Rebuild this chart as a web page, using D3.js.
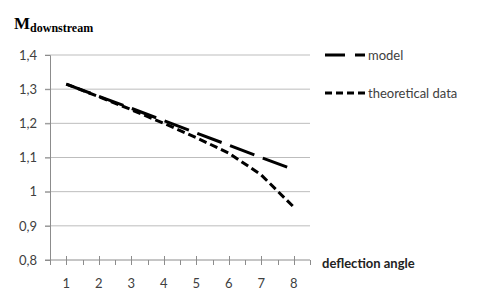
<!DOCTYPE html>
<html>
<head>
<meta charset="utf-8">
<script src="https://cdn.jsdelivr.net/npm/d3@7"></script>
<style>
  body { margin: 0; background: #fff; }
  text { font-family: Lato, "Open Sans", sans-serif; }
</style>
</head>
<body>
<script>
// categories and series
var angles = [1, 2, 3, 4, 5, 6, 7, 8];
var model = [1.315, 1.279, 1.244, 1.208, 1.172, 1.136, 1.100, 1.065];
var theory = [1.315, 1.278, 1.240, 1.200, 1.158, 1.113, 1.049, 0.955];
var yTicks = [0.8, 0.9, 1.0, 1.1, 1.2, 1.3, 1.4];
var yLabels = ["0,8", "0,9", "1", "1,1", "1,2", "1,3", "1,4"];

var w = 480, h = 298;
var svg = d3.select("body").append("svg").attr("width", w).attr("height", h);

var x = d3.scaleLinear().domain([0.5, 8.5]).range([50, 310]);
var y = d3.scaleLinear().domain([0.8, 1.4]).range([260, 55]);

// gridlines
svg.append("g").selectAll("line")
    .data(yTicks.slice(1))
    .enter().append("line")
    .attr("x1", 45).attr("x2", 310)
    .attr("y1", function(d) { return y(d); })
    .attr("y2", function(d) { return y(d); })
    .attr("stroke", "#bdbdbd").attr("stroke-width", 1);

// y axis
var yAxis = d3.axisLeft(y).tickValues(yTicks).tickSize(5)
    .tickFormat(function(d, i) { return yLabels[i]; });
var gy = svg.append("g").attr("transform", "translate(50,0)").call(yAxis);
gy.select(".domain").attr("stroke", "#8c8c8c");
gy.selectAll(".tick line").attr("stroke", "#8c8c8c");
gy.selectAll(".tick text").attr("x", -13).attr("font-size", 13)
    .attr("fill", "#404040").style("font-family", "Lato, 'Open Sans', sans-serif");

// x axis: major ticks through axis, minor ticks below
var gx = svg.append("g").attr("transform", "translate(0,260)");
gx.append("line").attr("x1", 45).attr("x2", 310).attr("stroke", "#8c8c8c");
var minor = d3.range(0.5, 8.51, 1);
gx.selectAll(".minor").data(minor).enter().append("line")
    .attr("class", "minor")
    .attr("x1", function(d) { return Math.round(x(d)) + 0.5; })
    .attr("x2", function(d) { return Math.round(x(d)) + 0.5; })
    .attr("y1", 0).attr("y2", 5).attr("stroke", "#8c8c8c");
gx.selectAll(".major").data(angles).enter().append("line")
    .attr("class", "major")
    .attr("x1", function(d) { return Math.round(x(d)) + 0.5; })
    .attr("x2", function(d) { return Math.round(x(d)) + 0.5; })
    .attr("y1", -4).attr("y2", 5).attr("stroke", "#8c8c8c");
gx.selectAll("text").data(angles).enter().append("text")
    .attr("x", function(d) { return x(d); })
    .attr("y", 28)
    .attr("text-anchor", "middle")
    .attr("font-size", 13).attr("fill", "#404040")
    .text(function(d) { return d; });

// lines
var line = function(vals) {
    return d3.line()
        .x(function(d, i) { return x(angles[i]); })
        .y(function(d) { return y(d); })(vals);
};
svg.append("path").attr("d", line(model))
    .attr("fill", "none").attr("stroke", "#000").attr("stroke-width", 3)
    .attr("stroke-dasharray", "26,9");
svg.append("path").attr("d", line(theory))
    .attr("fill", "none").attr("stroke", "#000").attr("stroke-width", 3)
    .attr("stroke-dasharray", "8,4");

// legend
var legend = [
    { name: "model", dash: "20,10", y: 55 },
    { name: "theoretical data", dash: "7,4", y: 93 }
];
var lg = svg.append("g");
lg.selectAll("line").data(legend).enter().append("line")
    .attr("x1", 325).attr("x2", 365)
    .attr("y1", function(d) { return d.y; })
    .attr("y2", function(d) { return d.y; })
    .attr("stroke", "#000").attr("stroke-width", 3)
    .attr("stroke-dasharray", function(d) { return d.dash; });
lg.selectAll("text").data(legend).enter().append("text")
    .attr("x", 368)
    .attr("y", function(d) { return d.y + 5; })
    .attr("font-size", 13).attr("fill", "#404040")
    .text(function(d) { return d.name; });

// axis titles
var title = svg.append("text").attr("x", 14).attr("y", 29)
    .attr("font-weight", "bold")
    .style("font-family", "'Liberation Serif', 'DejaVu Serif', serif");
title.append("tspan").attr("font-size", 17).text("M");
title.append("tspan").attr("font-size", 12).attr("dy", 3).text("downstream");

svg.append("text").attr("x", 322).attr("y", 268)
    .attr("font-size", 13).attr("font-weight", "bold").attr("fill", "#222")
    .text("deflection angle");
</script>
</body>
</html>
